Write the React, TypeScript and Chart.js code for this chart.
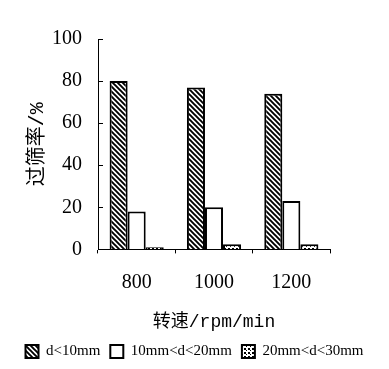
import React, { useEffect, useRef } from 'react';
import { Chart, registerables } from 'chart.js';
Chart.register(...registerables);

const categories = ['800', '1000', '1200'];
const seriesNames = ['d<10mm', '10mm<d<20mm', '20mm<d<30mm'];
const fineValues = [80, 77, 74];
const mediumValues = [18, 20, 23];
const coarseValues = [1, 2.5, 2.5];
const yMin = 0;
const yMax = 100;
const yStep = 20;
const xTitle = '转速/rpm/min';
const yTitle = '过筛率/%';

function hatchPattern(): CanvasPattern | string {
  const c = document.createElement('canvas');
  const s = 5;
  c.width = s; c.height = s;
  const g = c.getContext('2d');
  if (!g) return '#fff';
  g.fillStyle = '#fff';
  g.fillRect(0, 0, s, s);
  g.strokeStyle = '#000';
  g.lineWidth = 1.9;
  g.beginPath();
  g.moveTo(-1, -1); g.lineTo(s + 1, s + 1);
  g.moveTo(-s - 1, -1); g.lineTo(1, s + 1);
  g.moveTo(s - 1, -1); g.lineTo(2 * s + 1, s + 1);
  g.stroke();
  return g.createPattern(c, 'repeat') || '#fff';
}

function dotPattern(): CanvasPattern | string {
  const c = document.createElement('canvas');
  const s = 4;
  c.width = s; c.height = s;
  const g = c.getContext('2d');
  if (!g) return '#fff';
  g.fillStyle = '#fff';
  g.fillRect(0, 0, s, s);
  g.fillStyle = '#000';
  g.fillRect(0, 0, 2, 2);
  g.fillRect(2, 2, 1, 1);
  return g.createPattern(c, 'repeat') || '#fff';
}

const innerTicks = {
  id: 'innerTicks',
  afterDraw(chart: any) {
    const y = chart.scales.y;
    const ctx = chart.ctx;
    ctx.save();
    ctx.strokeStyle = '#000';
    ctx.lineWidth = 1;
    for (let v = yMin; v <= yMax; v += yStep) {
      const py = Math.round(y.getPixelForValue(v)) + 0.5;
      ctx.beginPath();
      ctx.moveTo(y.right, py);
      ctx.lineTo(y.right + 5, py);
      ctx.stroke();
    }
    ctx.restore();
  },
};

export default function App() {
  const ref = useRef<HTMLCanvasElement>(null);
  useEffect(() => {
    if (!ref.current) return;
    const serif = "'Liberation Serif', 'Noto Sans CJK SC', serif";
    const mono = "'Liberation Mono', 'Noto Sans CJK SC', monospace";
    const chart = new Chart(ref.current, {
      type: 'bar',
      data: {
        labels: categories,
        datasets: [
          { label: seriesNames[0], data: fineValues, backgroundColor: hatchPattern() as any, borderColor: '#000', borderWidth: 2 },
          { label: seriesNames[1], data: mediumValues, backgroundColor: '#fff', borderColor: '#000', borderWidth: 2 },
          { label: seriesNames[2], data: coarseValues, backgroundColor: dotPattern() as any, borderColor: '#000', borderWidth: 2 },
        ],
      },
      options: {
        animation: false,
        responsive: false,
        maintainAspectRatio: false,
        layout: { padding: { top: 39, right: 0, left: 0, bottom: 0 } },
        datasets: { bar: { categoryPercentage: 0.7, barPercentage: 1.0 } } as any,
        plugins: {
          legend: {
            position: 'bottom',
            labels: {
              color: '#000',
              boxWidth: 13,
              boxHeight: 13,
              padding: 10,
              font: { family: serif, size: 15 },
            },
          },
          tooltip: { enabled: false },
        },
        scales: {
          x: {
            grid: { display: true, drawOnChartArea: false, drawTicks: true, tickLength: 4, color: '#000', offset: true },
            border: { display: true, color: '#000', width: 1 },
            ticks: { color: '#000', font: { family: serif, size: 20 }, padding: 17 },
            title: { display: true, text: xTitle, color: '#000', font: { family: mono, size: 18 }, padding: { top: 0, bottom: 1 } },
          },
          y: {
            min: yMin,
            max: yMax,
            afterFit: (scale: any) => { scale.width = 98; },
            grid: { display: true, drawOnChartArea: false, drawTicks: false },
            border: { display: true, color: '#000', width: 1 },
            ticks: { stepSize: yStep, color: '#000', font: { family: serif, size: 20 }, padding: 16 },
            title: { display: true, text: yTitle, color: '#000', font: { family: mono, size: 20 }, padding: { top: 26, bottom: 0 } },
          },
          spacer: {
            type: 'linear',
            position: 'right',
            display: true,
            afterFit: (scale: any) => { scale.width = 59; },
            grid: { display: false, drawTicks: false },
            border: { display: false },
            ticks: { display: false },
          },
        },
      },
      plugins: [innerTicks],
    });
    return () => chart.destroy();
  }, []);
  return (
    <div style={{ position: 'fixed', left: 0, top: 0, width: 389, height: 369, background: '#fff' }}>
      <canvas ref={ref} width={389} height={369} style={{ width: 389, height: 369 }} />
    </div>
  );
}
